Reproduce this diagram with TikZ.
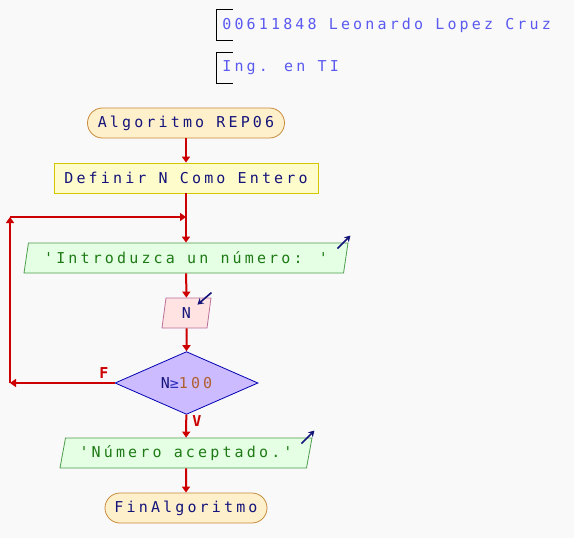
\documentclass[tikz,border=0pt]{standalone}
\usepackage{fontspec}
\usetikzlibrary{shapes.geometric}
\usetikzlibrary{arrows.meta}
\usetikzlibrary{calc}
\newfontfamily\psmono{DejaVu Sans Mono}[LetterSpace=21]
\colorlet{psbg}{white!97.5!black}
\definecolor{flowred}{HTML}{CC0000}
\definecolor{kwblue}{HTML}{14147A}
\definecolor{cmtblue}{HTML}{5A5AF0}
\definecolor{strgreen}{HTML}{1E7A14}
\definecolor{numbrown}{HTML}{B06030}
\definecolor{opblue}{HTML}{3030C0}
\definecolor{termfill}{HTML}{FFF0CC}
\definecolor{termline}{HTML}{C88A3C}
\definecolor{decfill}{HTML}{CCBBFF}
\tikzset{psn/.style={
  font=\psmono\fontsize{15pt}{17pt}\selectfont,
  text=kwblue,
  minimum height=30pt,
  inner sep=0pt,
  line width=0.8pt,
}}
\tikzset{termn/.style={
  psn,
  draw=termline,
  fill=termfill,
  shape=rectangle,
  rounded corners=15pt,
}}
\tikzset{procn/.style={
  psn,
  draw=yellow!60!olive,
  fill=yellow!20!white,
  shape=rectangle,
}}
\tikzset{ion/.style={
  psn,
  shape=trapezium,
  trapezium left angle=70,
  trapezium right angle=110,
  trapezium stretches body,
}}
\tikzset{outn/.style={ion,draw=green!45!black!70!white,fill=green!10!white,text=strgreen}}
\tikzset{inn/.style={ion,draw=magenta!60!black!70!white,fill=pink!45!white}}
\tikzset{decn/.style={
  psn,
  draw=blue!70!black,
  fill=decfill,
  shape=diamond,
  minimum width=143pt,
  minimum height=60pt,
}}
\tikzset{cmtn/.style={psn,text=cmtblue,anchor=west,inner xsep=5.5pt}}
\tikzset{flow/.style={
  draw=flowred,
  line width=2pt,
  -{Triangle[length=6pt,width=8pt]}
}}
\tikzset{icon/.style={
  draw=kwblue,
  line width=1.6pt,
  -{Stealth[length=6pt,width=7pt]}
}}
\tikzset{brlab/.style={
  font=\psmono\fontsize{15pt}{17pt}\selectfont\bfseries,
  text=flowred,
  inner sep=0pt,
}}

\begin{document}
\begin{tikzpicture}[x=1pt,y=-1pt]
    % Page background
    \fill[psbg] (0,0) rectangle (574,538);
    \useasboundingbox (0,0) rectangle (574,538);

    % Comments
    \node[cmtn] (cmt1) at (216.5,25) {00611848 Leonardo Lopez Cruz};
    \node[cmtn] (cmt2) at (216.5,68) {Ing. en TI};
    \draw[thin] ($(cmt1.north west)+(16,0)$) -- (cmt1.north west)
      -- (cmt1.south west) -- ++(16,0);
    \draw[thin] ($(cmt2.north west)+(16,0)$) -- (cmt2.north west)
      -- (cmt2.south west) -- ++(16,0);

    % Blocks
    \node[termn,minimum width=197pt] (start) at (186,123) {Algoritmo REP06};
    \node[procn,minimum width=264pt] (defn) at (186,178) {Definir N Como Entero};
    \node[outn,minimum width=324pt] (ask) at (186,258) {'Introduzca un número: '};
    \node[inn,minimum width=49pt] (readn) at (186.5,313) {N};
    \node[decn] (cond) at (186.5,383)
      {N{\color{opblue}≥}{\color{numbrown}100}};
    \node[outn,minimum width=252pt] (okmsg) at (186,453) {'Número aceptado.'};
    \node[termn,minimum width=162pt] (stop) at (186,508) {FinAlgoritmo};

    % Loop corners
    \coordinate (lpa) at (10,383);
    \coordinate (lpb) at (10,217);
    \coordinate (join) at (186,217);

    % Connectors
    \draw[flow] (start) -- (defn);
    \draw[flow] (defn) -- (ask);
    \draw[flow] (ask) -- (readn);
    \draw[flow] (readn) -- (cond);
    \draw[flow] (cond) -- (okmsg);
    \draw[flow] (okmsg) -- (stop);
    \draw[flow] (cond.west) -- (lpa);
    \draw[flow] (lpa) -- (lpb);
    \draw[flow] (lpb) -- (join);
    \node[brlab] (flab) at (104,373) {F};
    \node[brlab] (vlab) at (197,421) {V};

    % I/O marks
    \draw[icon] ($(ask.top right corner)+(-11,6)$) -- ++(13,-13);
    \draw[icon] ($(okmsg.top right corner)+(-11,6)$) -- ++(13,-13);
    \draw[icon] ($(readn.top right corner)+(0,-5)$) -- ++(-14,12);

  \end{tikzpicture}
\end{document}
